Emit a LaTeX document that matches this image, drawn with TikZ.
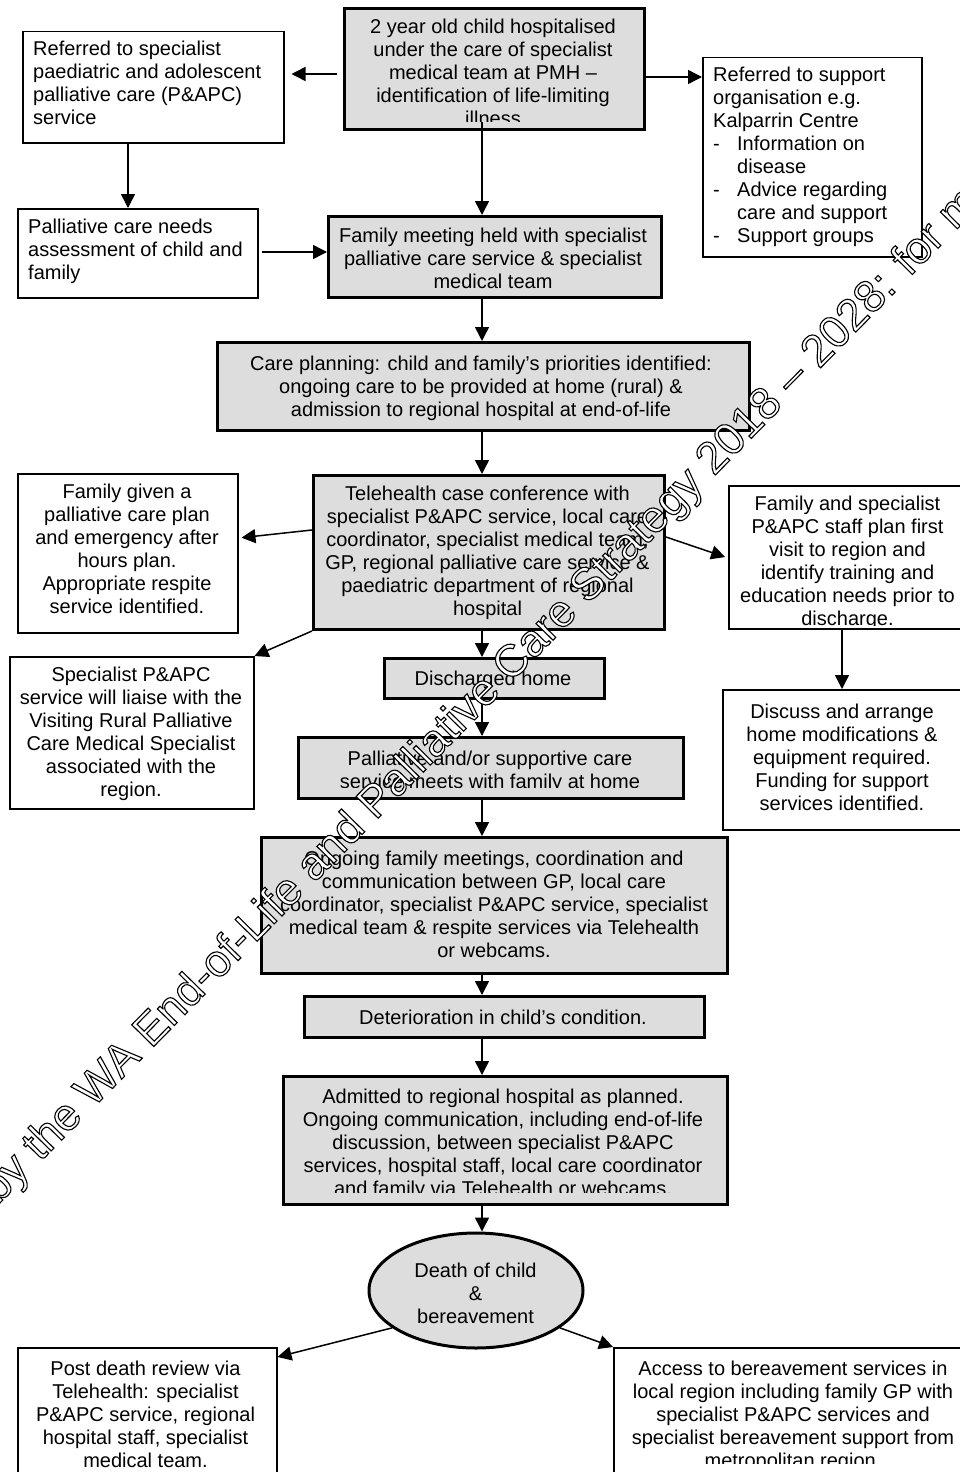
\documentclass[tikz,border=0pt]{standalone}
\usepackage{fontspec}
\setmainfont{Liberation Sans}
\usetikzlibrary{arrows.meta,shapes.geometric}
\definecolor{boxgray}{RGB}{221,221,221}
\tikzset{
  wbox/.style={draw, line width=1.5pt, fill=white, inner sep=0pt, anchor=north west},
  gbox/.style={draw, line width=3pt, fill=boxgray, inner sep=0pt, anchor=north west},
  txt/.style={inner sep=0pt, anchor=north, align=center, font=\fontsize{20}{23}\selectfont},
  ltxt/.style={inner sep=0pt, anchor=north west, align=left, font=\fontsize{20}{23}\selectfont},
  arr/.style={-{Triangle[length=14pt,width=14pt]}, line width=1.5pt},
}
\begin{document}
\begin{tikzpicture}[x=1pt,y=-1pt]
\useasboundingbox (0,0) rectangle (960,1472);
\fill[white] (0,0) rectangle (960,1472);

% top
\node[gbox, minimum width=300pt, minimum height=121pt] (n1) at (343,7) {};
\begin{scope}
\clip (343,7) rectangle (643,121);
\node[txt] (t1) at (493,16.9) {\strut 2 year old child hospitalised\\under the care of specialist\\medical team at PMH –\\identification of life-limiting\\illness};
\end{scope}

\node[wbox, minimum width=261pt, minimum height=111pt] (n2) at (22,31) {};
\node[ltxt] (t2) at (33,38.9) {\strut Referred to specialist\\paediatric and adolescent\\palliative care (P\&APC)\\service};

\node[wbox, minimum width=240pt, minimum height=89pt] (n3) at (17,208) {};
\node[ltxt] (t3) at (28,216.9) {\strut Palliative care needs\\assessment of child and\\family};

\node[gbox, minimum width=333pt, minimum height=81pt] (n4) at (327,215) {};
\node[txt] (t4) at (493,225.9) {\strut Family meeting held with specialist\\palliative care service \& specialist\\medical team};

\node[wbox, minimum width=219pt, minimum height=199pt] (n5) at (702,57) {};
\node[ltxt] (t5) at (713,64.9) {\strut Referred to support\\organisation e.g.\\Kalparrin Centre\\\makebox[24pt][l]{-}Information on\\\hspace*{24pt}disease\\\makebox[24pt][l]{-}Advice regarding\\\hspace*{24pt}care and support\\\makebox[24pt][l]{-}Support groups};

\node[gbox, minimum width=532pt, minimum height=88pt] (n6) at (216,341) {};
\node[txt] (t6) at (481,353.9) {\strut Care planning: child and family’s priorities identified:\\ongoing care to be provided at home (rural) \&\\admission to regional hospital at end-of-life};

\node[gbox, minimum width=351pt, minimum height=154pt] (n7) at (312,474) {};
\node[txt] (t7) at (487.5,483.9) {\strut Telehealth case conference with\\specialist P\&APC service, local care\\coordinator, specialist medical team,\\GP, regional palliative care service \&\\paediatric department of regional\\hospital};

\node[wbox, minimum width=220pt, minimum height=159pt] (n8) at (17,473) {};
\node[txt] (t8) at (127,481.9) {\strut Family given a\\palliative care plan\\and emergency after\\hours plan.\\Appropriate respite\\service identified.};

\node[wbox, minimum width=244pt, minimum height=152pt] (n9) at (9,656) {};
\node[txt] (t9) at (131,664.9) {\strut Specialist P\&APC\\service will liaise with the\\Visiting Rural Palliative\\Care Medical Specialist\\associated with the\\region.};

\node[wbox, minimum width=250pt, minimum height=143pt] (n10) at (728,485) {};
\begin{scope}
\clip (728,485) rectangle (978,625);
\node[txt] (t10) at (847.5,493.9) {\strut Family and specialist\\P\&APC staff plan first\\visit to region and\\identify training and\\education needs prior to\\discharge.};
\end{scope}

\node[wbox, minimum width=256pt, minimum height=140pt] (n11) at (722,689) {};
\node[txt] (t11) at (842,701.9) {\strut Discuss and arrange\\home modifications \&\\equipment required.\\Funding for support\\services identified.};

\node[gbox, minimum width=220pt, minimum height=40pt] (n12) at (383,657) {};
\node[txt] (t12) at (493,668.9) {\strut Discharged home};

\node[gbox, minimum width=385pt, minimum height=61pt] (n13) at (297,736) {};
\begin{scope}
\clip (297,736) rectangle (682,787);
\node[txt] (t13) at (490,748.9) {\strut Palliative and/or supportive care\\service meets with family at home};
\end{scope}

\node[gbox, minimum width=466pt, minimum height=136pt] (n14) at (260,836) {};
\node[txt] (t14) at (494,848.9) {\strut Ongoing family meetings, coordination and\\communication between GP, local care\\coordinator, specialist P\&APC service, specialist\\medical team \& respite services via Telehealth\\or webcams.};

\node[gbox, minimum width=400pt, minimum height=41pt] (n15) at (303,995) {};
\node[txt] (t15) at (503,1007.9) {\strut Deterioration in child’s condition.};

\node[gbox, minimum width=444pt, minimum height=128pt] (n16) at (282,1075) {};
\begin{scope}
\clip (282,1075) rectangle (726,1192);
\node[txt] (t16) at (503,1086.9) {\strut Admitted to regional hospital as planned.\\Ongoing communication, including end-of-life\\discussion, between specialist P\&APC\\services, hospital staff, local care coordinator\\and family via Telehealth or webcams.};
\end{scope}

\node[ellipse, draw, line width=3pt, fill=boxgray, inner sep=0pt, minimum width=214pt, minimum height=115pt] (n17) at (476,1290.5) {};
\node[txt] (t17) at (475.5,1260.9) {\strut Death of child\\\&\\bereavement};

\node[wbox, minimum width=259pt, minimum height=150pt] (n18) at (17,1347) {};
\node[txt] (t18) at (145.5,1358.9) {\strut Post death review via\\Telehealth: specialist\\P\&APC service, regional\\hospital staff, specialist\\medical team.};

\node[wbox, minimum width=370pt, minimum height=150pt] (n19) at (613,1347) {};
\begin{scope}
\clip (613,1347) rectangle (983,1463);
\node[txt] (t19) at (793,1358.9) {\strut Access to bereavement services in\\local region including family GP with\\specialist P\&APC services and\\specialist bereavement support from\\metropolitan region.};
\end{scope}

% connectors
\draw[arr, shorten <=6pt, shorten >=7pt] (n1.west |- 0,74) -- (n2.east |- 0,74);
\draw[arr] (n2.south -| 128,0) -- (n3.north -| 128,0);
\draw[arr, shorten <=3pt] (n3.east |- 0,252) -- (n4.west |- 0,252);
\draw[arr, shorten <=-9pt] (n1.south -| 482,0) -- (n4.north -| 482,0);
\draw[arr] (n1.east |- 0,77) -- (n5.west |- 0,77);
\draw[arr] (n4.south -| 482,0) -- (n6.north -| 482,0);
\draw[arr] (n6.south -| 482,0) -- (n7.north -| 482,0);
\draw[arr, shorten >=3pt] (n7.west |- 0,530) -- (n8.east |- 0,538);
\draw[arr] (n7.south west) -- (n9.north east);
\draw[arr, shorten >=3pt] (n7.east |- 0,537) -- (n10.west |- 0,558);
\draw[arr] (n10.south -| 842,0) -- (n11.north -| 842,0);
\draw[arr] (n7.south -| 482,0) -- (n12.north -| 482,0);
\draw[arr] (n12.south -| 482,0) -- (n13.north -| 482,0);
\draw[arr] (n13.south -| 482,0) -- (n14.north -| 482,0);
\draw[arr] (n14.south -| 482,0) -- (n15.north -| 482,0);
\draw[arr] (n15.south -| 482,0) -- (n16.north -| 482,0);
\draw[arr] (n16.south -| 482,0) -- (n17.north -| 482,0);
\draw[arr] (n17.204) -- (n18.east |- 0,1357);
\draw[arr] (n17.336) -- (n19.north west);

% watermark
\node[rotate=45.5, anchor=base west, inner sep=0pt, font=\fontsize{45}{54}\selectfont] (wm) at (-2,1205)
  {\color{white}\special{pdf:code q 2 Tr 1.1 w 0 G}by the WA End-of-Life and Palliative Care Strategy 2018 – 2028: for more\special{pdf:code Q}};
\end{tikzpicture}
\end{document}
